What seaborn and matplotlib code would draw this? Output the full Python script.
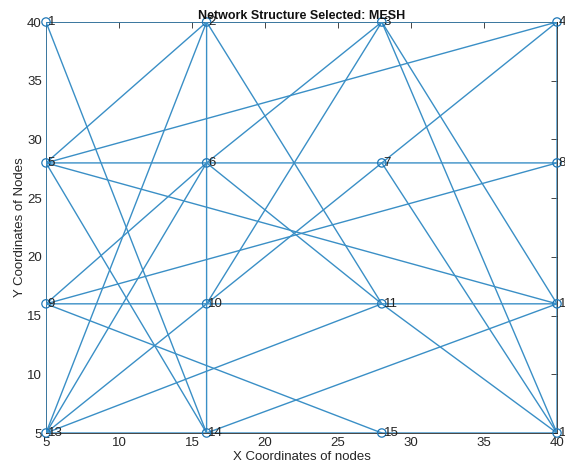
import matplotlib
matplotlib.use("Agg")
import matplotlib.pyplot as plt
import seaborn as sns
import pandas as pd

# Node data
node_ids = list(range(1, 17))
node_x = [5, 16, 28, 40, 5, 16, 28, 40, 5, 16, 28, 40, 5, 16, 28, 40]
node_y = [40, 40, 40, 40, 28, 28, 28, 28, 16, 16, 16, 16, 5, 5, 5, 5]

# Edges (node id pairs)
edge_from = [1, 2, 3, 5, 6, 7, 9, 10, 11, 13, 14, 15,
             1, 5, 9, 2, 6, 10, 4, 8, 12,
             1, 2, 2, 2, 3, 3, 3, 3, 4, 4, 5, 5, 6, 6, 6, 7, 7, 8, 9, 10, 11, 11, 12]
edge_to = [2, 3, 4, 6, 7, 8, 10, 11, 12, 14, 15, 16,
           5, 9, 13, 6, 10, 14, 8, 12, 16,
           14, 5, 13, 11, 6, 10, 12, 16, 5, 7, 12, 14, 9, 13, 11, 10, 16, 9, 15, 13, 13, 16, 14]

x_ticks = [5, 10, 15, 20, 25, 30, 35, 40]
y_ticks = [5, 10, 15, 20, 25, 30, 35, 40]

title = "Network Structure Selected: MESH"
xlabel = "X Coordinates of nodes"
ylabel = "Y Coordinates of Nodes"

sns.set_style("white")
plt.rcParams['font.family'] = ['Liberation Sans', 'DejaVu Sans']

rows = []
for k, (a, b) in enumerate(zip(edge_from, edge_to)):
    rows.append({"edge": k, "order": 0, "x": node_x[a - 1], "y": node_y[a - 1]})
    rows.append({"edge": k, "order": 1, "x": node_x[b - 1], "y": node_y[b - 1]})
edges_df = pd.DataFrame(rows)
nodes_df = pd.DataFrame({"id": node_ids, "x": node_x, "y": node_y})

blue = "#3a8fc6"

fig = plt.figure(figsize=(5.65, 4.72), dpi=100)
ax = fig.add_axes([46 / 565, 39 / 472, 511 / 565, 411 / 472])

sns.lineplot(data=edges_df, x="x", y="y", units="edge", estimator=None,
             sort=False, color=blue, linewidth=1.0, ax=ax, legend=False,
             zorder=2)
for ln in ax.lines:
    ln.set_snap(False)
sns.scatterplot(data=nodes_df, x="x", y="y", marker="o", s=36,
                facecolors="none", edgecolors="#1f78b8", linewidths=0.9, ax=ax,
                legend=False, clip_on=False, zorder=3)

for i, x, y in zip(node_ids, node_x, node_y):
    ax.text(x + 0.12, y, str(i), ha="left", va="center", fontsize=9.5,
            color="#222222", clip_on=False, zorder=4)

ax.set_xlim(5, 40)
ax.set_ylim(5, 40)
ax.set_xticks(x_ticks)
ax.set_yticks(y_ticks)
ax.tick_params(direction="in", length=4, width=0.6, top=True, right=True,
               labelsize=9.5, colors="#262626", pad=3)
for side in ax.spines.values():
    side.set_visible(True)
    side.set_color("#262626")
    side.set_linewidth(0.6)
    side.set_zorder(1)
ax.set_title(title, fontsize=9, fontweight="bold", pad=2, color="#111111")
ax.set_xlabel(xlabel, fontsize=9.5, labelpad=1, color="#262626")
ax.set_ylabel(ylabel, fontsize=9.5, labelpad=1, color="#262626")

fig.savefig("out.png", dpi=100)
